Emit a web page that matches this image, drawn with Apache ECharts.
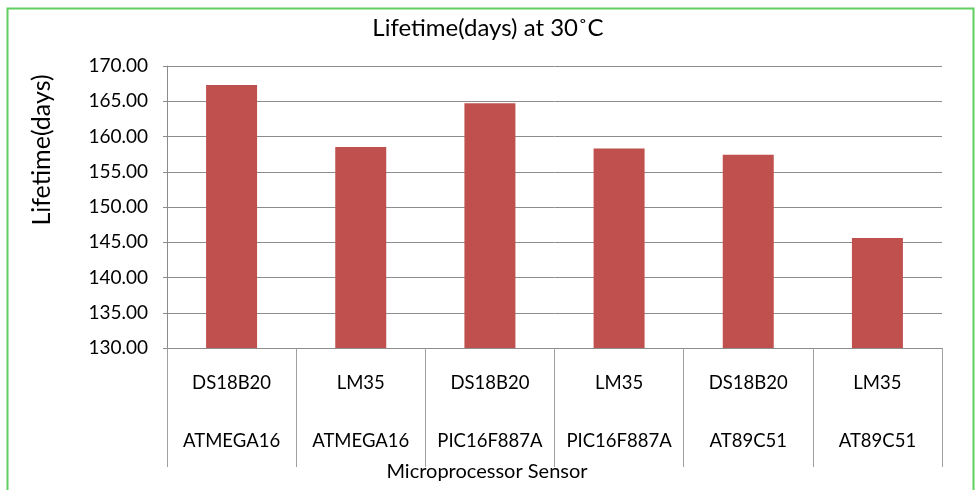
<!DOCTYPE html>
<html><head><meta charset="utf-8">
<script src="https://cdn.jsdelivr.net/npm/echarts@6/dist/echarts.min.js"></script>
<style>html,body{margin:0;padding:0;background:#fff}#c{width:976px;height:490px}</style>
</head><body><div id="c"></div>
<script>
var sensors = ['DS18B20','LM35','DS18B20','LM35','DS18B20','LM35'];
var processors = ['ATMEGA16','ATMEGA16','PIC16F887A','PIC16F887A','AT89C51','AT89C51'];
var lifetimes = [167.3, 158.5, 164.7, 158.3, 157.4, 145.6];
var title = 'Lifetime(days) at 30˚C';
var yTitle = 'Lifetime(days)';
var xTitle = 'Microprocessor Sensor';

var cats = sensors.map(function(s,i){return s + '\n\n' + processors[i];});
var FONT = 'Lato, "Open Sans", sans-serif';
var chart = echarts.init(document.getElementById('c'));
chart.setOption({
  animation:false,
  title:{text:title,left:'center',top:11,textStyle:{fontFamily:FONT,fontSize:24,fontWeight:'normal',color:'#000'}},
  grid:{left:167,right:34,top:66,bottom:142},
  xAxis:{type:'category',data:cats,
    axisLine:{lineStyle:{color:'#8c8c8c',width:1}},
    axisTick:{show:true,interval:0,length:119,lineStyle:{color:'#a0a0a0'}},
    axisLabel:{interval:0,fontFamily:FONT,fontSize:18.5,color:'#000',lineHeight:29,margin:21}},
  yAxis:{type:'value',min:130,max:170,interval:5,
    axisLine:{show:true,lineStyle:{color:'#8c8c8c'}},
    axisTick:{show:true,length:4,lineStyle:{color:'#8c8c8c'}},
    splitLine:{lineStyle:{color:'#8c8c8c',width:1}},
    axisLabel:{fontFamily:FONT,fontSize:19,color:'#000',margin:19,formatter:function(v){return v.toFixed(2);}}},
  series:[{type:'bar',data:lifetimes,barWidth:51,itemStyle:{color:'#C0504D'}}],
  graphic:[
    {type:'rect',left:5,top:6,shape:{width:966,height:500},style:{fill:'none',stroke:'#5fcf5f',lineWidth:2},silent:true},
    {type:'text',x:42,y:150,rotation:Math.PI/2,style:{text:yTitle,font:'25px '+FONT,fill:'#000',textAlign:'center',textVerticalAlign:'middle'}},
    {type:'text',x:487,y:472,style:{text:xTitle,font:'20px '+FONT,fill:'#000',textAlign:'center',textVerticalAlign:'middle'}}
  ]
});
</script></body></html>
